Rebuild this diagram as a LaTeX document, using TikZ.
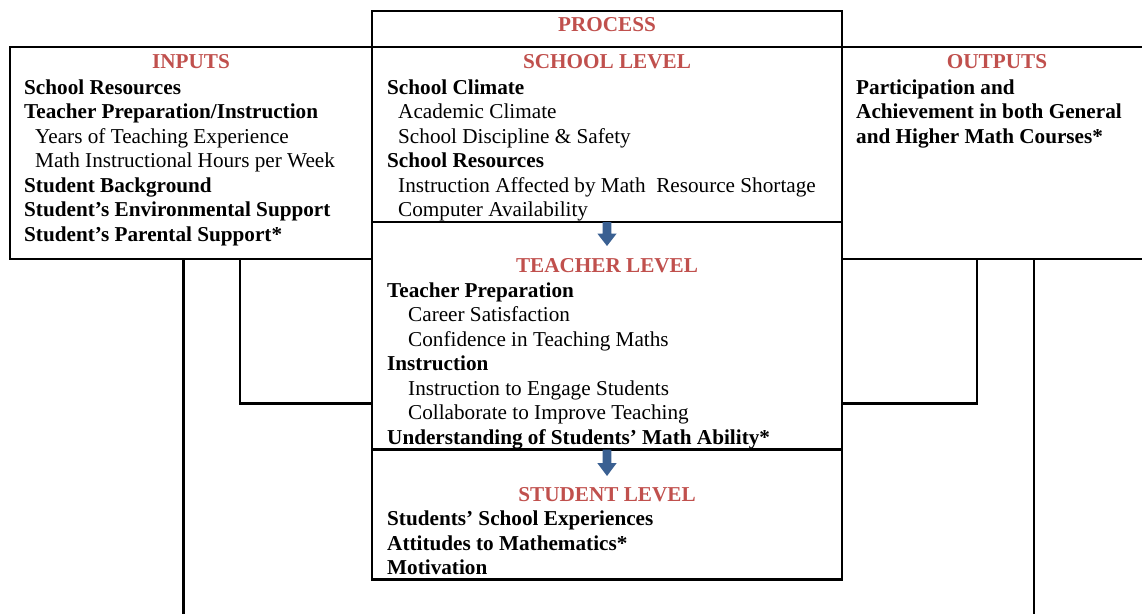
\documentclass[tikz,border=0pt]{standalone}
\usepackage{fontspec}
\setmainfont{Liberation Serif}
\usepackage{xcolor}
\definecolor{hdred}{RGB}{192,80,77}
\definecolor{arblue}{RGB}{58,96,146}
\tikzset{
    RA1/.style ={rectangle, draw=black, line width=2.2pt, inner sep=0pt, outer sep=0pt, anchor=north west},
    HD1/.style ={inner sep=0pt, anchor=base, text=hdred, font=\fontsize{21.2}{24.5}\selectfont\bfseries},
    TB1/.style ={inner sep=0pt, anchor=base west, font=\fontsize{21.2}{24.5}\selectfont},
    AR1/.style ={fill=arblue},
    LN1/.style ={draw=black, line width=2.2pt}
}

\begin{document}
\begin{tikzpicture}[x=1pt, y=-1pt]
        \useasboundingbox (0,0) rectangle (1142,613);
        \node[RA1, minimum width=470pt, minimum height=36pt] (proc) at (372,11) {};
        \node[RA1, minimum width=362pt, minimum height=212pt] (inputs) at (10,47) {};
        \node[RA1, minimum width=310pt, minimum height=212pt] (outputs) at (842,47) {};
        \node[RA1, minimum width=470pt, minimum height=175pt] (school) at (372,47) {};
        \node[RA1, minimum width=470pt, minimum height=227.5pt] (teacher) at (372,222) {};
        \node[RA1, minimum width=470pt, minimum height=130pt] (student) at (372,449.5) {};
        \node[HD1] (hproc) at (607,31.7) {PROCESS};
        \node[HD1] (hin) at (191,68.5) {INPUTS};
        \node[HD1] (hout) at (997,68.5) {OUTPUTS};
        \node[HD1] (hschool) at (607,68.5) {SCHOOL LEVEL};
        \node[HD1] (hteach) at (607,272.7) {TEACHER LEVEL};
        \node[HD1] (hstud) at (607,501) {STUDENT LEVEL};
        \node[TB1] (tin) at (24,94) {\begin{tabular}[t]{@{}l@{}}
            \textbf{School Resources}\\
            \textbf{Teacher Preparation/Instruction}\\
            \hspace*{11pt}Years of Teaching Experience\\
            \hspace*{11pt}Math Instructional Hours per Week\\
            \textbf{Student Background}\\
            \textbf{Student’s Environmental Support}\\
            \textbf{Student’s Parental Support*}
        \end{tabular}};
        \node[TB1] (tschool) at (387,94) {\begin{tabular}[t]{@{}l@{}}
            \textbf{School Climate}\\
            \hspace*{11pt}Academic Climate\\
            \hspace*{11pt}School Discipline \& Safety\\
            \textbf{School Resources}\\
            \hspace*{11pt}Instruction Affected by Math\ \ Resource Shortage\\
            \hspace*{11pt}Computer Availability
        \end{tabular}};
        \node[TB1] (tteach) at (387,297.3) {\begin{tabular}[t]{@{}l@{}}
            \textbf{Teacher Preparation}\\
            \hspace*{21pt}Career Satisfaction\\
            \hspace*{21pt}Confidence in Teaching Maths\\
            \textbf{Instruction}\\
            \hspace*{21pt}Instruction to Engage Students\\
            \hspace*{21pt}Collaborate to Improve Teaching\\
            \textbf{Understanding of Students’ Math Ability*}
        \end{tabular}};
        \node[TB1] (tstud) at (387,525.5) {\begin{tabular}[t]{@{}l@{}}
            \textbf{Students’ School Experiences}\\
            \textbf{Attitudes to Mathematics*}\\
            \textbf{Motivation}
        \end{tabular}};
        \node[TB1] (tout) at (856,94) {\begin{tabular}[t]{@{}l@{}}
            \textbf{Participation and}\\
            \textbf{Achievement in both General}\\
            \textbf{and Higher Math Courses*}
        \end{tabular}};
        \fill[AR1] (school.south) ++(-4.3,0) -- ++(8.6,0) -- ++(0,11.5) -- ++(5.4,0) -- ++(-9.7,12.5) -- ++(-9.7,-12.5) -- ++(5.4,0) -- cycle;
        \fill[AR1] (teacher.south) ++(-4.3,0) -- ++(8.6,0) -- ++(0,13.5) -- ++(5.4,0) -- ++(-9.7,13) -- ++(-9.7,-13) -- ++(5.4,0) -- cycle;
        \coordinate (inL) at (183.5,620);
        \coordinate (inM) at (240,403.5);
        \coordinate (outM) at (976.7,403.5);
        \coordinate (outR) at (1034,620);
        \draw[LN1] (inputs.south -| inL) -- (inL);
        \draw[LN1] (inputs.south -| inM) |- (teacher.west |- inM);
        \draw[LN1] (outputs.south -| outM) |- (teacher.east |- outM);
        \draw[LN1] (outputs.south -| outR) -- (outR);
    \end{tikzpicture}
\end{document}
